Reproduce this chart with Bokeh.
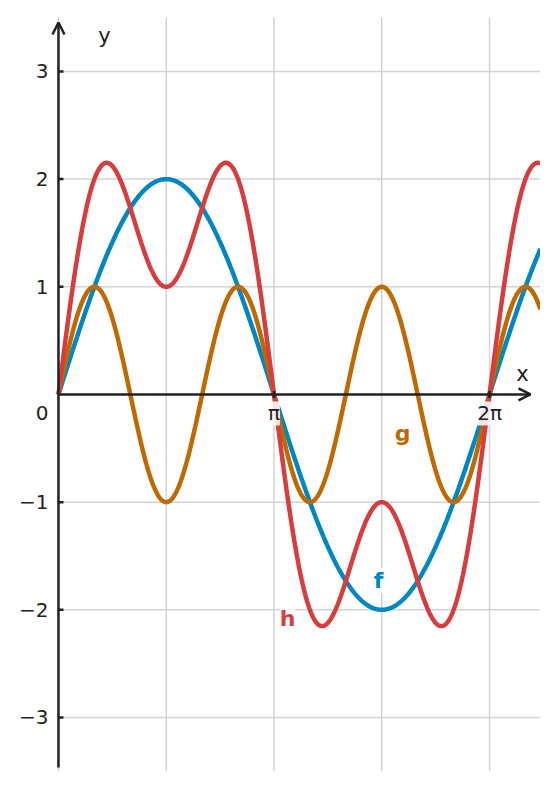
import numpy as np
from bokeh.plotting import figure
from bokeh.models import Arrow, OpenHead
from bokeh.core.properties import value
from bokeh.embed import file_html
from bokeh.resources import INLINE

# ---- data ----
series_names = ["f", "g", "h"]
# f(x) = 2 sin(x), g(x) = sin(3x), h = f + g
f_amp, f_freq = 2.0, 1.0
g_amp, g_freq = 1.0, 3.0
y_ticks = [-3, -2, -1, 1, 2, 3]
y_tick_labels = ["−3", "−2", "−1", "1", "2", "3"]
x_ticks = [np.pi, 2 * np.pi]
x_tick_labels = ["π", "2π"]
x_grid = [0, np.pi / 2, np.pi, 3 * np.pi / 2, 2 * np.pi]
y_grid = [-3, -2, -1, 1, 2, 3]

X_MIN, X_MAX = -0.845, 7.026
Y_MIN, Y_MAX = -3.604, 3.659
PX_X = 68.6    # pixels per x unit
PX_Y = 107.67  # pixels per y unit

x = np.linspace(0, X_MAX, 1200)
f = f_amp * np.sin(f_freq * x)
g = g_amp * np.sin(g_freq * x)
h = f + g

BLUE = "#0087bf"
ORANGE = "#bf6a00"
RED = "#d63e3e"
AXIS = "#222222"
GRID = "#d4d4d4"
FONT = "DejaVu Sans"

p = figure(width=540, height=782, x_range=(X_MIN, X_MAX), y_range=(Y_MIN, Y_MAX),
           x_axis_type=None, y_axis_type=None, toolbar_location=None,
           output_backend="svg", min_border=0)
p.outline_line_color = None
p.xgrid.visible = False
p.ygrid.visible = False
p.background_fill_color = "white"

# grid
p.segment(x0=x_grid, y0=[-3.5] * len(x_grid), x1=x_grid, y1=[3.5] * len(x_grid),
          line_color=GRID, line_width=1.5)
p.segment(x0=[0] * len(y_grid), y0=y_grid, x1=[X_MAX] * len(y_grid), y1=y_grid,
          line_color=GRID, line_width=1.5)

# curves
p.line(x, f, line_color=BLUE, line_width=4.5)
p.line(x, g, line_color=ORANGE, line_width=4.5)
p.line(x, h, line_color=RED, line_width=4.5)

# axes
p.add_layout(Arrow(end=OpenHead(size=12, line_width=2.5, line_color=AXIS),
                   x_start=0, y_start=0, x_end=6.88, y_end=0,
                   line_width=2.5, line_color=AXIS))
p.add_layout(Arrow(end=OpenHead(size=12, line_width=2.5, line_color=AXIS),
                   x_start=0, y_start=-3.464, x_end=0, y_end=3.455,
                   line_width=2.5, line_color=AXIS))

# ticks
tick_len_x = 5 / PX_X
p.segment(x0=[0] * len(y_ticks), y0=y_ticks, x1=[tick_len_x] * len(y_ticks), y1=y_ticks,
          line_color=AXIS, line_width=2.5)
tick_half_y = 3.5 / PX_Y
p.segment(x0=x_ticks, y0=[-tick_half_y] * len(x_ticks), x1=x_ticks, y1=[tick_half_y] * len(x_ticks),
          line_color=AXIS, line_width=2.5)

# tick labels
p.text(x=[0] * len(y_ticks), y=y_ticks, text=y_tick_labels, x_offset=-10,
       text_align="right", text_baseline="middle", text_font=value(FONT),
       text_font_size="20px", text_color=AXIS)
p.text(x=[0], y=[0], text=["0"], x_offset=-10, y_offset=19,
       text_align="right", text_baseline="middle", text_font=value(FONT),
       text_font_size="20px", text_color=AXIS)
p.text(x=x_ticks, y=[0] * len(x_ticks), text=x_tick_labels, y_offset=19,
       text_align="center", text_baseline="middle", text_font=value(FONT),
       text_font_size="20px", text_color=AXIS,
       background_fill_color="white", background_fill_alpha=0.85)

# axis names
p.text(x=[6.764], y=[0.186], text=["x"], text_align="center", text_baseline="middle",
       text_font=value(FONT), text_font_size="21px", text_color=AXIS)
p.text(x=[0.67], y=[3.325], text=["y"], text_align="center", text_baseline="middle",
       text_font=value(FONT), text_font_size="21px", text_color=AXIS)

# curve labels
lab_x = [4.665, 5.015, 3.338]
lab_y = [-1.727, -0.362, -2.080]
lab_c = [BLUE, ORANGE, RED]
p.text(x=lab_x, y=lab_y, text=series_names, text_color=lab_c, text_align="center",
       text_baseline="middle", text_font=value(FONT), text_font_size="22px",
       text_font_style="bold", background_fill_color="white", background_fill_alpha=0.85)

open("out.html", "w").write(file_html(p, INLINE))
